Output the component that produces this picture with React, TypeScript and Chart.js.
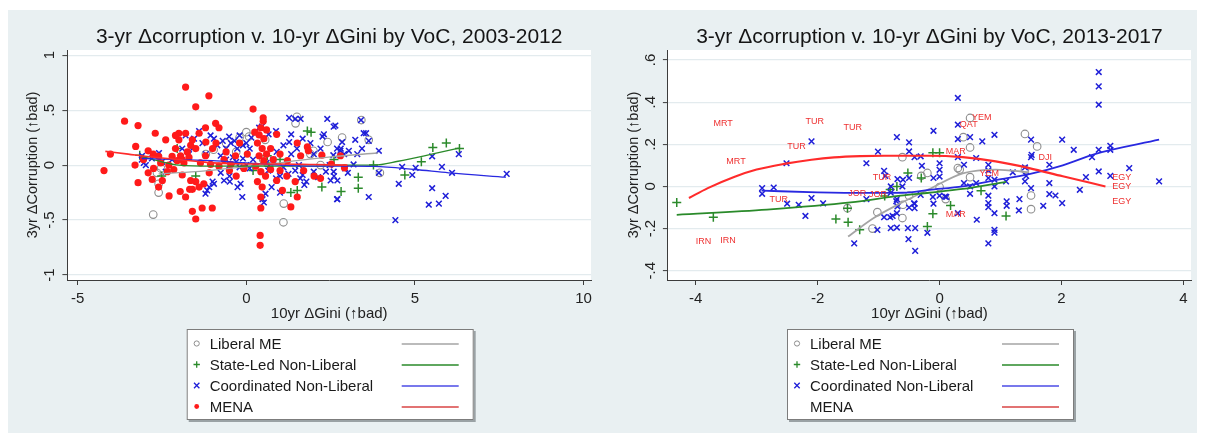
import React, { useEffect, useRef } from "react";
import { Chart, registerables } from "chart.js";

Chart.register(...registerables);

type P = [number, number];

const FONT = "'Liberation Sans', Arial, Helvetica, sans-serif";
const BG = "#e9f0f2";

const seriesNames = ["Liberal ME", "State-Led Non-Liberal", "Coordinated Non-Liberal", "MENA"];
const xAxisTitle = "10yr ΔGini (↑bad)";
const yAxisTitle = "3yr ΔCorruption (↑bad)";

// ---------- Panel 1: 2003-2012 ----------
const p1Title = "3-yr Δcorruption v. 10-yr ΔGini by VoC, 2003-2012";
const p1XTicks = [-5, 0, 5, 10];
const p1XTickLabels = ["-5", "0", "5", "10"];
const p1YTicks = [-1, -0.5, 0, 0.5, 1];
const p1YTickLabels = ["-1", "-.5", "0", ".5", "1"];

const p1Liberal: P[] = [
  [-2.76, -0.45], [-2.6, -0.17], [-2.6, -0.25], [-2.53, -0.03], [-2.65, -0.07], [1.1, -0.52], [1.11, -0.35],
  [0.0, 0.3], [0.08, 0.26], [-0.2, 0.25], [-0.97, 0.14], [-0.6, 0.2], [1.5, 0.44], [1.46, 0.38], [1.99, 0.13],
  [2.41, 0.21], [2.84, 0.25], [3.41, 0.41], [3.63, 0.23], [3.96, -0.07], [0.56, 0.23], [-1.2, 0.1], [-0.3, 0.12],
  [1.9, 0.1], [2.2, 0.0], [0.5, 0.05],
];
const p1StateLed: P[] = [
  [-3.16, 0.09], [-2.51, -0.1], [-2.05, 0.15], [-1.5, -0.1], [0.62, 0.085], [0.67, -0.01], [1.32, -0.25],
  [1.51, -0.23], [1.81, 0.31], [1.92, 0.3], [2.24, -0.2], [2.81, -0.24], [3.32, -0.11], [3.32, -0.21],
  [3.77, 0.0], [4.7, -0.09], [5.19, 0.03], [5.53, 0.16], [5.93, 0.2], [6.32, 0.15], [0.2, -0.05], [1.0, 0.05],
  [2.6, 0.05],
];
const p1Coordinated: P[] = [
  [-3.1, 0.05], [-2.98, 0.0], [-3.04, 0.02], [-3.09, 0.085], [-2.64, 0.09], [-2.59, 0.11], [-2.8, 0.06],
  [-2.39, -0.06], [-2.5, 0.03], [-2.2, 0.05], [-1.9, 0.15], [-1.8, 0.27], [-1.6, 0.15], [-1.55, 0.24],
  [-1.4, 0.31], [-1.7, 0.1], [-1.3, 0.2], [-1.2, 0.1], [-1.06, 0.27], [-0.96, 0.24], [-0.86, 0.18], [-0.7, 0.22],
  [-0.6, 0.15], [-0.51, 0.26], [-0.46, 0.2], [-0.35, 0.22], [-0.27, 0.15], [-0.2, 0.27], [-0.1, 0.18], [0.0, 0.2],
  [0.1, 0.15], [0.15, 0.25], [-0.76, 0.085], [-0.6, 0.05], [-0.5, 0.0], [-0.4, 0.07], [-0.3, 0.03], [-0.2, -0.02],
  [-0.1, 0.06], [0.0, 0.0], [0.1, -0.03], [0.2, 0.05], [-0.76, -0.07], [-0.66, -0.14], [-0.5, -0.1],
  [-0.17, -0.17], [-0.12, -0.29], [-0.26, -0.2], [-1.16, -0.23], [-1.21, -0.26], [-0.96, -0.17], [-1.0, -0.15],
  [-1.1, -0.2], [-0.49, -0.15], [0.38, 0.34], [0.46, 0.35], [0.66, 0.28], [0.88, 0.31], [1.33, 0.28],
  [1.67, 0.24], [1.27, 0.43], [1.45, 0.42], [1.61, 0.42], [1.27, 0.21], [1.5, 0.15], [1.1, 0.18], [0.9, 0.12],
  [0.6, 0.02], [0.7, -0.04], [0.8, 0.05], [0.65, -0.05], [0.88, -0.12], [1.1, -0.02], [1.33, 0.1], [1.56, 0.0],
  [1.67, -0.09], [1.78, -0.15], [1.72, -0.18], [1.6, -0.12], [1.45, -0.05], [1.25, -0.08], [1.0, -0.1],
  [0.57, -0.26], [0.52, -0.34], [0.48, -0.31], [0.75, -0.2], [1.0, -0.25], [2.0, -0.06], [2.13, -0.11],
  [2.36, -0.06], [2.47, 0.0], [2.58, 0.09], [2.3, 0.28], [2.26, 0.26], [2.4, 0.42], [2.64, 0.36], [2.8, 0.15],
  [2.9, 0.1], [2.93, -0.03], [2.7, -0.14], [2.7, -0.31], [2.0, 0.1], [2.2, 0.15], [1.9, 0.2], [2.6, -0.1],
  [2.5, -0.14], [2.59, 0.35], [3.48, 0.29], [3.23, 0.23], [3.43, 0.15], [3.93, 0.13], [3.04, 0.13],
  [2.79, 0.13], [2.84, 0.21], [2.69, 0.15], [3.29, 0.1], [2.59, -0.06], [2.69, -0.31], [3.01, -0.07],
  [3.18, 0.006], [3.63, -0.29], [3.93, -0.07], [3.4, 0.41], [3.55, 0.29], [3.63, 0.22], [4.62, -0.016],
  [5.02, -0.025], [4.92, -0.09], [4.52, -0.17], [4.42, -0.5], [5.51, 0.08], [5.51, -0.21], [5.8, -0.016],
  [6.1, -0.07], [6.3, 0.1], [5.91, -0.28], [5.71, -0.35], [5.41, -0.36], [7.72, -0.08],
];
const p1Mena: P[] = [
  [-1.8, 0.71], [-1.11, 0.63], [-1.5, 0.53], [0.2, 0.51], [-3.61, 0.4], [-3.21, 0.36], [-2.7, 0.29], [-3.28, 0.17],
  [-4.03, 0.1], [-4.22, -0.05], [-3.21, -0.16], [-2.91, 0.13], [-2.91, -0.07], [-2.79, -0.13], [-2.49, -0.14],
  [-2.29, -0.28], [-2.39, 0.23], [-2.0, 0.29], [-1.8, 0.29], [-2.0, 0.23], [-2.1, 0.15], [-1.95, 0.085],
  [-2.05, 0.04], [-1.85, 0.02], [-1.75, 0.12], [-1.65, 0.18], [-1.5, 0.15], [-1.4, 0.29], [-1.21, 0.34],
  [-0.91, 0.38], [-0.81, 0.34], [-1.21, 0.085], [-1.36, 0.02], [-1.06, 0.006], [-0.81, -0.01], [-0.66, 0.05],
  [-1.9, -0.09], [-1.65, -0.14], [-1.5, -0.15], [-1.4, -0.2], [-1.26, -0.17], [-1.6, -0.22], [-1.8, -0.29],
  [-1.31, -0.39], [-1.01, -0.39], [-1.6, -0.42], [-1.5, -0.49], [-2.15, -0.04], [-2.34, -0.06], [-2.54, 0.02],
  [0.5, 0.43], [0.5, 0.4], [0.43, 0.34], [0.38, 0.275], [0.52, 0.24], [0.33, 0.2], [0.47, 0.15], [0.38, 0.085],
  [0.52, 0.04], [0.28, -0.01], [0.43, -0.06], [0.57, -0.1], [0.33, -0.15], [0.47, -0.2], [0.43, -0.29],
  [0.43, -0.39], [0.41, -0.64], [0.41, -0.73], [0.03, 0.1], [-0.07, -0.03], [0.72, 0.15], [0.9, 0.28],
  [0.9, -0.14], [1.32, -0.38], [1.51, -0.29], [1.07, -0.23], [1.22, 0.04], [1.61, 0.085], [1.81, 0.165],
  [2.01, -0.1], [1.51, 0.2], [-0.32, 0.085], [-0.46, 0.006], [0.72, -0.04], [2.79, 0.085], [2.91, -0.025],
  [1.84, 0.13], [2.24, 0.09], [2.52, 0.01], [1.45, -0.15], [-2.2, 0.08], [-1.9, 0.05], [-2.3, 0.0],
  [-1.7, 0.07], [-2.1, 0.27], [-1.6, 0.23], [-2.6, 0.08], [-2.75, -0.03], [-1.2, 0.21], [-1.0, 0.15],
  [-0.9, 0.2], [-0.6, 0.12], [-0.5, -0.05], [0.6, 0.1], [0.8, 0.05], [1.0, 0.1], [1.2, -0.1], [0.25, 0.3],
  [0.6, 0.32], [1.7, -0.05], [2.2, -0.12], [1.0, -0.05], [-3.05, 0.05], [-3.3, 0.0], [-2.6, -0.2],
  [-1.1, -0.07], [-0.2, 0.2], [-0.3, -0.1], [-1.96, -0.24], [-1.68, -0.22], [-2.76, 0.1],
];
const p1FitLiberal: P[] = [[-2.6, -0.08], [-1.5, -0.06], [-0.5, -0.03], [0.5, 0.0], [1.5, 0.04], [2.5, 0.075], [3.9, 0.11]];
const p1FitStateLed: P[] = [[-3.1, 0.08], [-2.5, 0.03], [-2, 0.0], [-1, -0.01], [0, -0.01], [1, -0.01], [2, -0.01], [3, 0.0], [3.8, 0.0], [4.5, 0.035], [5.5, 0.1], [6.3, 0.155]];
const p1FitCoordinated: P[] = [[-3.1, 0.06], [-2, 0.05], [-1, 0.04], [0, 0.02], [1, 0.0], [2, -0.01], [3, -0.01], [3.8, -0.012], [5, -0.04], [6, -0.07], [7.7, -0.11]];
const p1FitMena: P[] = [[-4.18, 0.125], [-3.5, 0.1], [-3, 0.08], [-2.5, 0.065], [-2, 0.05], [-1.5, 0.035], [-1, 0.02], [0, 0.01], [1, 0.01], [2, 0.005], [3, 0.0]];

// ---------- Panel 2: 2013-2017 ----------
const p2Title = "3-yr Δcorruption v. 10-yr ΔGini by VoC, 2013-2017";
const p2XTicks = [-4, -2, 0, 2, 4];
const p2XTickLabels = ["-4", "-2", "0", "2", "4"];
const p2YTicks = [-0.4, -0.2, 0, 0.2, 0.4, 0.6];
const p2YTickLabels = ["-.4", "-.2", "0", ".2", ".4", ".6"];

const p2Liberal: P[] = [
  [-0.6, -0.087], [-0.61, -0.15], [-1.02, -0.122], [-1.1, -0.2], [-1.51, -0.103], [-0.61, 0.139], [-0.5, -0.044],
  [0.5, 0.325], [0.39, 0.234], [0.5, 0.185], [0.3, 0.087], [0.5, 0.044], [1.4, 0.249], [1.6, 0.19], [1.5, -0.043],
  [1.5, -0.108], [0.0, -0.003], [-0.2, 0.064], [0.1, -0.06], [0.33, 0.08], [-0.3, 0.05], [1.4, 0.08],
];
const p2StateLed: P[] = [
  [-4.31, -0.076], [-3.71, -0.146], [-1.7, -0.155], [-1.5, -0.17], [-1.31, -0.206], [-1.51, -0.103],
  [-0.52, 0.064], [-0.3, 0.04], [-0.81, -0.015], [-0.9, -0.045], [0.68, -0.02], [-0.11, -0.13], [-0.2, -0.19],
  [0.18, -0.09], [1.09, -0.14], [-0.11, 0.16], [0.0, 0.16], [-0.7, 0.0],
];
const p2Coordinated: P[] = [
  [-2.1, 0.214], [-2.51, 0.11], [-2.91, -0.008], [-2.91, -0.035], [-2.72, -0.005], [-2.5, -0.082], [-2.31, -0.087],
  [-2.1, -0.055], [-2.2, -0.14], [-1.91, -0.08], [-1.2, 0.11], [-1.01, 0.165], [-0.7, 0.234], [-0.5, 0.209],
  [-0.5, 0.166], [-0.31, 0.143], [-0.41, 0.139], [-0.91, 0.074], [-0.89, 0.05], [-0.69, 0.035], [-0.6, 0.032],
  [-0.5, 0.04], [-0.61, 0.0], [-0.8, -0.03], [-0.7, -0.06], [-0.41, -0.082], [-0.41, -0.103], [-0.91, -0.146],
  [-0.81, -0.146], [-0.7, -0.127], [-1.02, -0.206], [-0.8, -0.198], [-0.7, -0.195], [-0.52, -0.198],
  [-0.4, -0.198], [-0.51, -0.25], [-0.4, -0.306], [-1.4, -0.27], [-1.2, -0.06], [-0.31, -0.04], [-0.2, -0.22],
  [-0.8, 0.0], [-0.71, -0.07], [-0.69, -0.095], [-0.77, -0.14], [-0.5, -0.1], [-0.42, -0.08], [-0.29, 0.098],
  [-0.11, -0.05], [0.0, 0.047], [0.11, -0.05],
  [0.3, 0.42], [-0.1, 0.264], [0.3, 0.293], [0.3, 0.225], [0.5, 0.234], [0.7, 0.214], [0.9, 0.245], [0.6, 0.135],
  [0.3, 0.139], [0.0, 0.11], [0.0, 0.079], [0.4, 0.103], [0.4, 0.016], [0.5, 0.0], [0.5, -0.035], [0.6, 0.016],
  [0.8, 0.103], [0.8, 0.076], [0.8, 0.04], [0.8, -0.044], [0.8, -0.079], [0.8, -0.098], [0.9, 0.032], [0.9, 0.0],
  [0.9, -0.127], [0.9, -0.206], [0.9, -0.219], [0.8, -0.27], [0.61, -0.158], [1.09, 0.024], [1.1, -0.071],
  [1.1, -0.092], [1.2, 0.067], [1.31, -0.06], [1.3, -0.114], [1.4, 0.024], [1.42, 0.05], [1.4, 0.09], [1.5, 0.222],
  [1.51, 0.15], [1.5, 0.139], [1.5, -0.008], [1.7, -0.092], [1.8, 0.103], [1.8, 0.016], [1.8, -0.036],
  [1.9, -0.043], [2.01, 0.222], [2.01, -0.079], [2.2, 0.174], [2.3, -0.016], [2.4, 0.044], [2.5, 0.139],
  [2.61, 0.543], [2.61, 0.475], [2.61, 0.388], [2.61, 0.174], [2.61, 0.071], [2.8, 0.193], [2.8, 0.174],
  [2.8, 0.05], [3.11, 0.087], [3.6, 0.024], [-0.1, 0.04], [-0.1, -0.082], [0.0, -0.044], [0.09, -0.048],
  [0.3, -0.127],
];
const p2MenaCodes = ["MRT", "TUR", "TUR", "TUR", "MRT", "TUR", "IRN", "IRN", "TUR", "JOR", "JOR", "MAR", "QAT", "YEM", "YEM", "MAR", "DJI", "EGY", "EGY", "EGY"];
const p2Mena: P[] = [
  [-3.74, 0.3], [-2.23, 0.31], [-1.61, 0.28], [-2.53, 0.19], [-3.53, 0.12], [-2.82, -0.063], [-4.03, -0.26],
  [-3.63, -0.257], [-1.13, 0.044], [-1.53, -0.032], [-1.19, -0.036], [0.07, 0.166], [0.3, 0.293], [0.5, 0.325],
  [0.62, 0.059], [0.07, -0.135], [1.59, 0.138], [2.8, 0.044], [2.8, 0.0], [2.8, -0.073],
];
const p2FitLiberal: P[] = [[-1.5, -0.238], [-1.08, -0.15], [-0.64, -0.08], [-0.17, -0.013], [0.38, 0.062], [0.92, 0.08], [1.47, 0.067]];
const p2FitStateLed: P[] = [[-4.31, -0.135], [-2.83, -0.11], [-1.46, -0.076], [-0.64, -0.044], [-0.17, -0.03], [0.38, -0.012], [1.09, 0.022]];
const p2FitCoordinated: P[] = [[-2.92, -0.02], [-2.0, -0.028], [-1.2, -0.031], [-0.6, -0.03], [-0.17, -0.016], [0.38, 0.0], [0.92, 0.03], [1.47, 0.058], [2.02, 0.1], [2.56, 0.155], [3.6, 0.222]];
const p2FitMena: P[] = [[-4.11, -0.055], [-3.8, -0.008], [-3.37, 0.045], [-3.0, 0.08], [-2.55, 0.107], [-2.1, 0.127], [-1.73, 0.138], [-1.3, 0.144], [-0.91, 0.146], [-0.17, 0.146], [0.38, 0.139], [0.92, 0.119], [1.47, 0.087], [2.02, 0.048], [2.72, 0.0]];

// ---------- styling ----------
const C_GRAY = "#8e8e8e";
const C_GREEN = "#2b8a2b";
const C_BLUE = "#1f1fd8";
const C_RED = "#ff1a1a";
const L_GRAY = "#a4a4a4";
const L_GREEN = "#2a8a2a";
const L_BLUE = "#2828e0";
const L_RED = "#ff2b2b";
const AXIS = "#3c3c3c";
const GRID = "#e3ebee";

interface PanelSpec {
  title: string;
  xMin: number; xMax: number; yMin: number; yMax: number;
  xTicks: number[]; xTickLabels: string[]; yTicks: number[]; yTickLabels: string[];
  liberal: P[]; stateLed: P[]; coordinated: P[]; mena: P[] | null;
  menaLabels: { codes: string[]; pts: P[] } | null;
  fits: P[][];
  lineWidth: number;
  yAxisWidth: number; padRight: number; legendLeft: number;
  menaMarkerInLegend: boolean;
}

const toXY = (a: P[]) => a.map(([x, y]) => ({ x, y }));

function drawSym(ctx: CanvasRenderingContext2D, kind: string, x: number, y: number, r: number) {
  ctx.save();
  ctx.beginPath();
  if (kind === "circle") {
    ctx.strokeStyle = C_GRAY; ctx.lineWidth = 1;
    ctx.arc(x, y, r, 0, Math.PI * 2); ctx.stroke();
  } else if (kind === "plus") {
    ctx.strokeStyle = C_GREEN; ctx.lineWidth = 1.3;
    ctx.moveTo(x - r, y); ctx.lineTo(x + r, y); ctx.moveTo(x, y - r); ctx.lineTo(x, y + r); ctx.stroke();
  } else if (kind === "x") {
    ctx.strokeStyle = C_BLUE; ctx.lineWidth = 1.3;
    const d = r * 0.75;
    ctx.moveTo(x - d, y - d); ctx.lineTo(x + d, y + d); ctx.moveTo(x + d, y - d); ctx.lineTo(x - d, y + d); ctx.stroke();
  } else if (kind === "dot") {
    ctx.fillStyle = C_RED;
    ctx.arc(x, y, r, 0, Math.PI * 2); ctx.fill();
  }
  ctx.restore();
}

function decorPlugin(spec: PanelSpec) {
  return {
    id: "stataDecor",
    beforeDraw(chart: any) {
      const { ctx, chartArea: a } = chart;
      ctx.save();
      ctx.fillStyle = "#ffffff";
      ctx.fillRect(a.left, a.top, a.right - a.left, a.bottom - a.top);
      ctx.restore();
    },
    afterDatasetsDraw(chart: any) {
      if (!spec.menaLabels) return;
      const { ctx } = chart;
      const xs = chart.scales.x, ys = chart.scales.y;
      ctx.save();
      ctx.font = `9px ${FONT}`;
      ctx.fillStyle = "#ee3030";
      ctx.textAlign = "left";
      ctx.textBaseline = "middle";
      spec.menaLabels.codes.forEach((c, i) => {
        const [x, y] = spec.menaLabels!.pts[i];
        ctx.fillText(c, xs.getPixelForValue(x) + 2, ys.getPixelForValue(y));
      });
      ctx.restore();
    },
    afterDraw(chart: any) {
      const { ctx, chartArea: a } = chart;
      const xs = chart.scales.x, ys = chart.scales.y;
      ctx.save();
      // title
      ctx.fillStyle = "#151515";
      ctx.font = `21px ${FONT}`;
      ctx.textAlign = "center";
      ctx.textBaseline = "middle";
      ctx.fillText(spec.title, (a.left + a.right) / 2, 27);
      // x tick labels
      ctx.fillStyle = "#222";
      ctx.font = `15px ${FONT}`;
      spec.xTicks.forEach((v, i) => ctx.fillText(spec.xTickLabels[i], xs.getPixelForValue(v), a.bottom + 19));
      // x axis title
      ctx.fillText(xAxisTitle, (a.left + a.right) / 2, a.bottom + 34);
      // y tick labels (rotated)
      spec.yTicks.forEach((v, i) => {
        ctx.save();
        ctx.translate(a.left - 17.5, ys.getPixelForValue(v));
        ctx.rotate(-Math.PI / 2);
        ctx.fillText(spec.yTickLabels[i], 0, 0);
        ctx.restore();
      });
      // y axis title
      ctx.save();
      ctx.translate(a.left - 34, (a.top + a.bottom) / 2);
      ctx.rotate(-Math.PI / 2);
      ctx.font = `14.5px ${FONT}`;
      ctx.fillText(yAxisTitle, 0, 0);
      ctx.restore();

      // legend
      const L = spec.legendLeft, T = 319, W = 287, H = 91;
      ctx.fillStyle = "#9aa2a5";
      ctx.fillRect(L + 2, T + 2, W, H);
      ctx.fillStyle = "#ffffff";
      ctx.fillRect(L, T, W, H);
      ctx.strokeStyle = "#7c7c7c";
      ctx.lineWidth = 1;
      ctx.strokeRect(L + 0.5, T + 0.5, W - 1, H - 1);
      const syms = ["circle", "plus", "x", "dot"];
      const lineCols = [L_GRAY, L_GREEN, "#4b4be6", "#d84444"];
      const symSize = [2.6, 3.2, 3.6, 2.4];
      ctx.font = `15px ${FONT}`;
      ctx.textAlign = "left";
      ctx.textBaseline = "middle";
      seriesNames.forEach((name, i) => {
        const ry = T + 14.5 + i * 21;
        if (i < 3 || spec.menaMarkerInLegend) drawSym(ctx, syms[i], L + 10, ry, symSize[i]);
        ctx.fillStyle = "#1a1a1a";
        ctx.fillText(name, L + 23, ry + 1);
        ctx.strokeStyle = lineCols[i];
        ctx.lineWidth = 1.6;
        ctx.beginPath();
        ctx.moveTo(L + 215, ry + 0.5);
        ctx.lineTo(L + 272, ry + 0.5);
        ctx.stroke();
      });
      ctx.restore();
    },
  };
}

function buildConfig(spec: PanelSpec): any {
  const datasets: any[] = [
    {
      label: seriesNames[0], data: toXY(spec.liberal), pointStyle: "circle", pointRadius: 3.8,
      pointBackgroundColor: "rgba(0,0,0,0)", pointBorderColor: C_GRAY, pointBorderWidth: 1.1, order: 8,
    },
    {
      label: seriesNames[1], data: toXY(spec.stateLed), pointStyle: "cross", pointRadius: 4.5,
      pointBorderColor: C_GREEN, pointBackgroundColor: C_GREEN, pointBorderWidth: 1.5, order: 7,
    },
    {
      label: seriesNames[2], data: toXY(spec.coordinated), pointStyle: "crossRot", pointRadius: 4,
      pointBorderColor: C_BLUE, pointBackgroundColor: C_BLUE, pointBorderWidth: 1.5, order: 6,
    },
  ];
  if (spec.mena) {
    datasets.push({
      label: seriesNames[3], data: toXY(spec.mena), pointStyle: "circle", pointRadius: 3.6,
      pointBorderColor: C_RED, pointBackgroundColor: C_RED, pointBorderWidth: 0, order: 5,
    });
  }
  const fitCols = [L_GRAY, L_GREEN, L_BLUE, L_RED];
  spec.fits.forEach((f, i) => {
    datasets.push({
      label: seriesNames[i] + " fit", data: toXY(f), showLine: true, pointRadius: 0,
      borderColor: fitCols[i], borderWidth: i === 3 ? spec.lineWidth + 0.3 : spec.lineWidth,
      cubicInterpolationMode: "monotone", fill: false, order: 4 - i,
    });
  });
  return {
    type: "scatter",
    data: { datasets },
    options: {
      animation: false,
      responsive: false,
      devicePixelRatio: 1,
      events: [],
      layout: { padding: { left: 0, right: spec.padRight, top: 40, bottom: 0 } },
      plugins: { legend: { display: false }, tooltip: { enabled: false }, title: { display: false } },
      scales: {
        x: {
          type: "linear", min: spec.xMin, max: spec.xMax,
          afterBuildTicks: (s: any) => { s.ticks = spec.xTicks.map((v) => ({ value: v })); },
          afterFit: (s: any) => { s.height = 153; },
          ticks: { display: false },
          grid: { drawOnChartArea: false, drawTicks: true, tickLength: 5, tickColor: AXIS, tickWidth: 1 },
          border: { display: true, color: AXIS, width: 1 },
        },
        y: {
          type: "linear", min: spec.yMin, max: spec.yMax,
          afterBuildTicks: (s: any) => { s.ticks = spec.yTicks.map((v) => ({ value: v })); },
          afterFit: (s: any) => { s.width = spec.yAxisWidth; },
          ticks: { display: false },
          grid: { color: GRID, lineWidth: 1.2, drawTicks: true, tickLength: 5, tickColor: AXIS, tickWidth: 1 },
          border: { display: true, color: AXIS, width: 1 },
        },
      },
    },
    plugins: [decorPlugin(spec)],
  };
}

const panel1: PanelSpec = {
  title: p1Title, xMin: -5.305, xMax: 10.22, yMin: -1.045, yMax: 1.047,
  xTicks: p1XTicks, xTickLabels: p1XTickLabels, yTicks: p1YTicks, yTickLabels: p1YTickLabels,
  liberal: p1Liberal, stateLed: p1StateLed, coordinated: p1Coordinated, mena: p1Mena, menaLabels: null,
  fits: [p1FitLiberal, p1FitStateLed, p1FitCoordinated, p1FitMena],
  lineWidth: 1.3, yAxisWidth: 59.4, padRight: 11, legendLeft: 178.7, menaMarkerInLegend: true,
};

const panel2: PanelSpec = {
  title: p2Title, xMin: -4.455, xMax: 4.123, yMin: -0.444, yMax: 0.6475,
  xTicks: p2XTicks, xTickLabels: p2XTickLabels, yTicks: p2YTicks, yTickLabels: p2YTickLabels,
  liberal: p2Liberal, stateLed: p2StateLed, coordinated: p2Coordinated, mena: null,
  menaLabels: { codes: p2MenaCodes, pts: p2Mena },
  fits: [p2FitLiberal, p2FitStateLed, p2FitCoordinated, p2FitMena],
  lineWidth: 1.8, yAxisWidth: 65.9, padRight: 5, legendLeft: 185, menaMarkerInLegend: false,
};

function Panel({ spec, width }: { spec: PanelSpec; width: number }) {
  const ref = useRef<HTMLCanvasElement | null>(null);
  useEffect(() => {
    if (!ref.current) return;
    const chart = new Chart(ref.current, buildConfig(spec));
    return () => chart.destroy();
  }, [spec]);
  return <canvas ref={ref} width={width} height={423} style={{ display: "block", width, height: 423 }} />;
}

export default function App() {
  return (
    <div
      style={{
        position: "absolute", left: 8, top: 10, width: 1189, height: 423,
        background: BG, display: "flex", fontFamily: FONT,
      }}
    >
      <Panel spec={panel1} width={594} />
      <Panel spec={panel2} width={595} />
    </div>
  );
}
